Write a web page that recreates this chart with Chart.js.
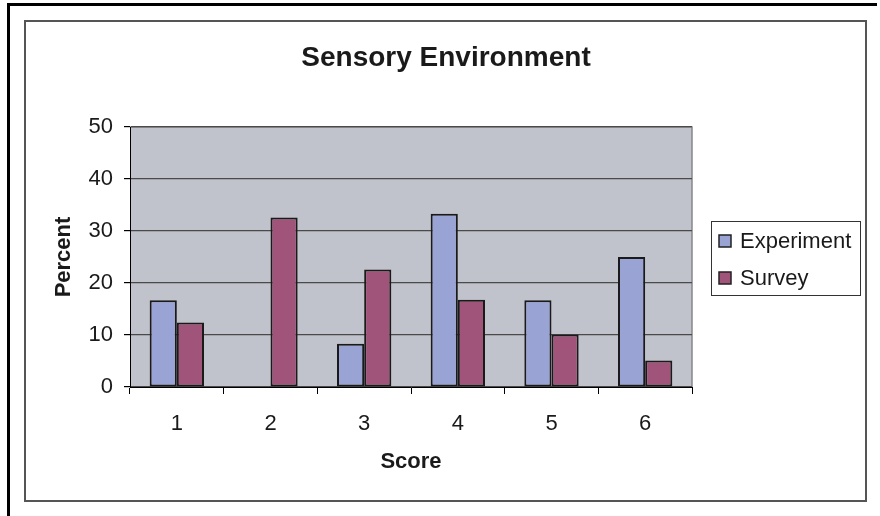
<!DOCTYPE html>
<html>
<head>
<meta charset="utf-8">
<title>Sensory Environment</title>
<script src="https://cdn.jsdelivr.net/npm/chart.js@4.4.0/dist/chart.umd.min.js"></script>
<style>
  html, body { margin: 0; padding: 0; background: #fff; }
  #wrap { width: 880px; height: 516px; }
</style>
</head>
<body>
<div id="wrap"><canvas id="chart" width="880" height="516"></canvas></div>
<script>
// scores on the x axis and percent per group
const scores = ['1', '2', '3', '4', '5', '6'];
const experiment = [16.7, 0, 8.3, 33.3, 16.7, 25];
const survey = [12.4, 32.6, 22.6, 16.8, 10.1, 5.1];
const yTicks = [0, 10, 20, 30, 40, 50];
const chartTitle = 'Sensory Environment';

const FONT = 'Arial, "Liberation Sans", sans-serif';
const TEXT = '#1a1a1a';

// page frame, inner border and grey plot background
const framePlugin = {
    id: 'frame',
    beforeDraw(chart) {
        const ctx = chart.ctx;
        const a = chart.chartArea;
        ctx.save();
        ctx.fillStyle = '#fff';
        ctx.fillRect(0, 0, chart.width, chart.height);

        ctx.fillStyle = '#000';
        ctx.fillRect(7, 3, 3, chart.height - 3);
        ctx.fillRect(7, 3, 870, 3);

        ctx.strokeStyle = '#555';
        ctx.lineWidth = 2;
        ctx.strokeRect(25, 21, 841, 480);

        ctx.fillStyle = '#c0c3cb';
        ctx.fillRect(a.left, a.top, a.right - a.left, a.bottom - a.top);
        ctx.strokeStyle = '#888';
        ctx.lineWidth = 1.5;
        ctx.beginPath();
        ctx.moveTo(a.left, a.top);
        ctx.lineTo(a.right, a.top);
        ctx.lineTo(a.right, a.bottom);
        ctx.stroke();
        ctx.restore();
    },
    // title is centred on the whole framed box, not on the plot
    afterDraw(chart) {
        const ctx = chart.ctx;
        ctx.save();
        ctx.font = 'bold 28px ' + FONT;
        ctx.fillStyle = TEXT;
        ctx.textAlign = 'center';
        ctx.textBaseline = 'alphabetic';
        ctx.fillText(chartTitle, 446, 66);
        ctx.restore();
    }
};

// boxed legend on the right
const legendPlugin = {
    id: 'boxLegend',
    afterDraw(chart) {
        const ctx = chart.ctx;
        const x = 711, y = 221, w = 149, h = 74;
        ctx.save();
        ctx.fillStyle = '#fff';
        ctx.fillRect(x, y, w, h);
        ctx.strokeStyle = '#333';
        ctx.lineWidth = 1;
        ctx.strokeRect(x + 0.5, y + 0.5, w, h);

        ctx.font = '22px ' + FONT;
        ctx.textBaseline = 'middle';
        ctx.textAlign = 'left';
        chart.data.datasets.forEach((ds, i) => {
            const ry = y + 14 + i * 37;
            ctx.fillStyle = ds.backgroundColor;
            ctx.fillRect(x + 8, ry, 12, 12);
            ctx.strokeStyle = '#222';
            ctx.lineWidth = 1.5;
            ctx.strokeRect(x + 8, ry, 12, 12);
            ctx.fillStyle = TEXT;
            ctx.fillText(ds.label, x + 29, ry + 7);
        });
        ctx.restore();
    }
};

new Chart(document.getElementById('chart'), {
    type: 'bar',
    data: {
        labels: scores,
        datasets: [
            {
                label: 'Experiment',
                data: experiment,
                backgroundColor: '#99a3d4',
                borderColor: '#1a1a1a',
                borderWidth: 2,
                borderSkipped: false
            },
            {
                label: 'Survey',
                data: survey,
                backgroundColor: '#a0547a',
                borderColor: '#1a1a1a',
                borderWidth: 2,
                borderSkipped: false
            }
        ]
    },
    options: {
        responsive: false,
        animation: false,
        datasets: {
            bar: { categoryPercentage: 0.58, barPercentage: 1 }
        },
        layout: {
            padding: { left: 51, right: 188, top: 127, bottom: 41 }
        },
        plugins: {
            legend: { display: false },
            tooltip: { enabled: false },
            title: { display: false }
        },
        scales: {
            x: {
                grid: {
                    drawOnChartArea: false,
                    drawTicks: true,
                    tickLength: 7,
                    tickColor: '#000',
                    offset: true
                },
                border: { display: true, color: '#000', width: 1 },
                ticks: {
                    color: TEXT,
                    font: { family: FONT, size: 22 },
                    padding: 17
                },
                title: {
                    display: true,
                    text: 'Score',
                    color: TEXT,
                    font: { family: FONT, size: 22, weight: 'bold' },
                    padding: { top: 0, bottom: 0 }
                },
                afterFit(scale) { scale.height = 88; }
            },
            y: {
                min: 0,
                max: 50,
                afterBuildTicks(scale) {
                    scale.ticks = yTicks.map(v => ({ value: v }));
                },
                grid: {
                    color: '#4a4a4a',
                    lineWidth: 1.2,
                    tickColor: '#000',
                    tickLength: 6
                },
                border: { display: true, color: '#000', width: 1 },
                ticks: {
                    color: TEXT,
                    font: { family: FONT, size: 22 },
                    padding: 11
                },
                title: {
                    display: true,
                    text: 'Percent',
                    color: TEXT,
                    font: { family: FONT, size: 22, weight: 'bold' },
                    padding: { top: 0, bottom: 0 }
                },
                afterFit(scale) { scale.width = 79; }
            }
        }
    },
    plugins: [framePlugin, legendPlugin]
});
</script>
</body>
</html>
